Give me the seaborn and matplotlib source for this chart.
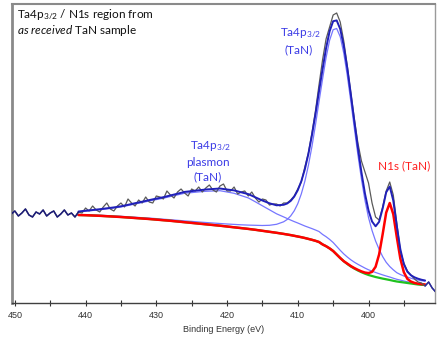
import numpy as np
import pandas as pd
import matplotlib
matplotlib.use("Agg")
import matplotlib.pyplot as plt
import seaborn as sns
from matplotlib.ticker import MultipleLocator

sns.set_style("white")
plt.rcParams["font.family"] = ["Lato", "DejaVu Sans"]
plt.rcParams["mathtext.fontset"] = "custom"
plt.rcParams["mathtext.rm"] = "Lato"
plt.rcParams["mathtext.it"] = "Lato:italic"
plt.rcParams["mathtext.default"] = "regular"

# ---- raw spectrum (binding energy, counts in arbitrary units) ----
raw_energy = np.arange(450.5, 390.4, -0.5)
raw_counts = [
    89, 92, 87, 90, 94, 88, 86, 91, 89, 93, 87, 90, 92, 86, 89, 93, 88, 90, 86, 91,
    90, 95, 92, 97, 93, 91, 96, 100, 94, 92, 97, 100, 96, 104, 100, 97, 103, 100, 106, 101,
    100, 107, 106, 104, 112, 108, 105, 111, 114, 110, 107, 114, 112, 116, 111, 115, 118, 113, 111, 117,
    119, 112, 112, 116, 109, 111, 112, 107, 111, 105, 101, 104, 103, 98, 99, 99, 97, 100, 100, 103,
    107, 114, 121, 136, 150, 170, 192, 218, 243, 264, 276, 288, 290, 281, 262, 237, 210, 184, 160, 142,
    131, 120, 100, 86, 83, 96, 112, 121, 108, 80, 52, 40, 32, 28, 24, 21, 20, 17, 21, 15, 11,
]

# ---- fit components ----
fit_energy = np.concatenate([np.arange(441, 411.5, -1), np.arange(411.5, 391.9, -0.5)])
background = [
    88, 87.8, 87.5, 87.2, 86.8, 86.4, 86, 85.5, 85, 84.5, 84, 83.4, 82.8, 82.2, 81.5,
    80.8, 80.1, 79.4, 78.7, 78, 77.3, 76.5, 75.7, 74.9, 74.1, 73.2, 72.2, 71.2, 70.2, 69.1,
    68.5, 67.9, 67.2, 66.5, 65.8, 65, 64.1, 63.2, 62.2, 61, 58.6, 56.8, 54.6, 52, 48.5,
    45, 41.8, 39, 36.5, 34.4, 32.5, 30.8, 29.3, 28, 27, 26, 25.2, 24.4, 23.7, 23,
    22.2, 21.5, 21, 20.5, 20, 19.5, 19, 18.5, 18.2, 18,
]
plasmon_comp = [
    3, 4, 5, 6, 7.3, 8.6, 10, 12, 14, 16, 18, 20, 22, 24.3, 26.6, 29, 30.3, 31.7, 33, 34,
    35, 34.5, 34, 32.5, 31, 28, 25, 22, 19, 17,
    16, 15, 14.2, 13.5, 12.7, 12, 11.6, 11.2, 10.8, 10.5, 10, 9.5, 9, 8.5, 8.1, 7.7, 7.3, 7,
    6.7, 6.4, 6.2, 6, 5.6, 5.2, 4.9, 4.5, 4.1, 3.7, 3.3, 3, 2.6, 2.2, 1.9, 1.5, 1.2, 1, 0.8,
    0.5, 0.3, 0.2,
]
ta4p_comp = [
    0.5, 0.5, 0.5, 0.6, 0.6, 0.6, 0.7, 0.7, 0.8, 0.8, 0.9, 1.0, 1.0, 1.1, 1.2, 1.3, 1.5,
    1.6, 1.8, 2.0, 2.2, 2.5, 2.9, 3.3, 3.8, 4.5, 5.3, 6.5, 8.5, 12.1,
    15.0, 19.2, 25.0, 32.8, 43.3, 56.7, 73.4, 93.2, 115.8, 140.2, 165.1, 188.5, 208.1, 221.3,
    226, 221.3, 208.1, 188.5, 165.1, 140.2, 115.8, 93.2, 73.4, 57.5, 45.5, 36.0, 28.5, 22.0,
    17.0, 13.5, 11.0, 8.8, 7.5, 6.5, 5.9, 5.3, 4.8, 4.5, 4.1, 3.8,
]
n1s_comp = [0] * 47 + [
    0.4, 0.45, 0.53, 0.65, 0.8, 1.1, 1.9, 4.1, 10.2, 23.4, 44.4, 66.7, 77, 66.7, 44.4,
    23.4, 10.2, 4.1, 1.9, 1.1, 0.8, 0.65, 0.53,
]

fit = pd.DataFrame({"E": fit_energy, "bg": background, "pl": plasmon_comp,
                    "ta": ta4p_comp, "n": n1s_comp})
fit["plasmon_line"] = fit["bg"] + fit["pl"]
fit["ta4p_line"] = fit["bg"] + fit["ta"]
fit["n1s_line"] = fit["bg"] + fit["n"]
fit["envelope"] = fit["bg"] + fit["pl"] + fit["ta"] + fit["n"]
raw = pd.DataFrame({"E": raw_energy, "I": raw_counts})

W, H = 444, 341
fig = plt.figure(figsize=(W / 100, H / 100), dpi=100)
ax = fig.add_axes([12 / W, 1 - 303 / H, 423 / W, 299 / H])

light = "#7676ff"
sns.lineplot(data=fit, x="E", y="plasmon_line", ax=ax, color=light, lw=0.9, estimator=None, zorder=2)
sns.lineplot(data=fit, x="E", y="ta4p_line", ax=ax, color=light, lw=0.9, estimator=None, zorder=2)
sns.lineplot(data=fit, x="E", y="bg", ax=ax, color="#1fc21f", lw=1.6, estimator=None, zorder=3)
sns.lineplot(data=fit, x="E", y="n1s_line", ax=ax, color="#ff0000", lw=1.8, estimator=None, zorder=4)
sns.lineplot(data=raw, x="E", y="I", ax=ax, color="#5a5a5a", lw=0.9, estimator=None, zorder=5)
sns.lineplot(data=fit, x="E", y="envelope", ax=ax, color="#2020b8", lw=1.4, estimator=None, zorder=6)
outside_hi = raw[raw["E"] >= 441]
outside_lo = raw[raw["E"] <= 392]
sns.lineplot(data=outside_hi, x="E", y="I", ax=ax, color="#1c1c7a", lw=1.1, estimator=None, zorder=6)
sns.lineplot(data=outside_lo, x="E", y="I", ax=ax, color="#2a2aa0", lw=1.1, estimator=None, zorder=6)

ax.set_xlim(450.4, 390.6)
ax.set_ylim(0, 299)
ax.set_yticks([])
ax.set_ylabel("")
ax.xaxis.set_major_locator(MultipleLocator(10))
ax.xaxis.set_minor_locator(MultipleLocator(5))
ax.tick_params(axis="x", which="both", direction="inout", length=5, width=0.8,
               colors="#333333", labelsize=6.5, pad=3, bottom=True)
for lab in ax.get_xticklabels():
    lab.set_family(["Liberation Sans", "DejaVu Sans"])
ax.set_xlabel("Binding Energy (eV)", fontsize=6.5, color="#333333", labelpad=4,
              family=["Liberation Sans", "DejaVu Sans"])

ax.spines["left"].set_color("#8a8a8a")
ax.spines["left"].set_linewidth(2)
ax.spines["top"].set_color("#8a8a8a")
ax.spines["top"].set_linewidth(1.5)
ax.spines["right"].set_color("#9a9a9a")
ax.spines["right"].set_linewidth(1)
ax.spines["bottom"].set_color("#404040")
ax.spines["bottom"].set_linewidth(1)

def fx(px):
    return (px - 12) / 423

def fy(py):
    return (303 - py) / 299

ax.text(fx(17), fy(15), "Ta4p$_{3/2}$ / N1s region from", transform=ax.transAxes,
        fontsize=8.5, ha="left", va="center", color="#111111")
ax.text(fx(17), fy(31), r"$\mathit{as\ received}$ TaN sample", transform=ax.transAxes,
        fontsize=8.5, ha="left", va="center", color="#111111")

blue = "#3b3be6"
ax.text(fx(301), fy(33), "Ta4p$_{3/2}$", transform=ax.transAxes, fontsize=8.5,
        ha="center", va="center", color=blue)
ax.text(fx(299), fy(50), "(TaN)", transform=ax.transAxes, fontsize=8.5,
        ha="center", va="center", color=blue)
ax.text(fx(211), fy(146), "Ta4p$_{3/2}$", transform=ax.transAxes, fontsize=8.5,
        ha="center", va="center", color=blue)
ax.text(fx(208), fy(162), "plasmon", transform=ax.transAxes, fontsize=8.5,
        ha="center", va="center", color=blue)
ax.text(fx(208), fy(177), "(TaN)", transform=ax.transAxes, fontsize=8.5,
        ha="center", va="center", color=blue)
ax.text(fx(404), fy(166), "N1s (TaN)", transform=ax.transAxes, fontsize=8.5,
        ha="center", va="center", color="#ff2020")

fig.savefig("out.png", dpi=100)
